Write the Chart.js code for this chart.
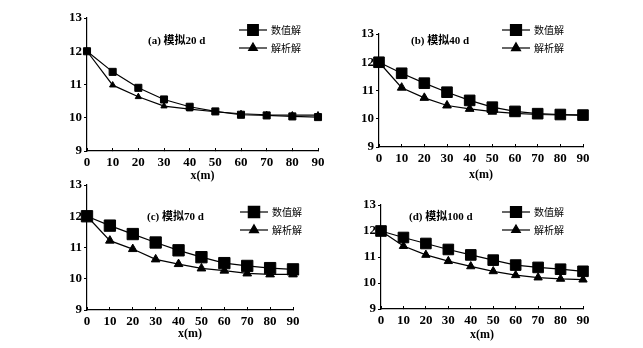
<!DOCTYPE html>
<html>
<head>
<meta charset="utf-8">
<script src="https://cdn.jsdelivr.net/npm/chart.js@4/dist/chart.umd.min.js"></script>
<style>
  html, body { margin: 0; padding: 0; background: #fff; }
  body { width: 643px; height: 348px; position: relative; overflow: hidden; }
  canvas { position: absolute; }
</style>
</head>
<body>
<canvas id="chartA"></canvas>
<canvas id="chartB"></canvas>
<canvas id="chartC"></canvas>
<canvas id="chartD"></canvas>
<script>
const X_VALUES = [0, 10, 20, 30, 40, 50, 60, 70, 80, 90];
const SERIES_LABELS = ["数值解", "解析解"];
const PANEL_TITLES = ["(a) 模拟20 d", "(b) 模拟40 d", "(c) 模拟70 d", "(d) 模拟100 d"];
const X_TITLE = "x(m)";

const numericA = [12, 11.38, 10.9, 10.55, 10.33, 10.19, 10.09, 10.07, 10.04, 10.02];
const analyticA = [12, 10.98, 10.63, 10.35, 10.26, 10.18, 10.12, 10.09, 10.08, 10.08];
const numericB = [12, 11.61, 11.26, 10.94, 10.65, 10.41, 10.26, 10.18, 10.15, 10.13];
const analyticB = [12, 11.1, 10.74, 10.47, 10.35, 10.25, 10.19, 10.15, 10.14, 10.13];
const numericC = [12, 11.7, 11.43, 11.16, 10.91, 10.69, 10.5, 10.41, 10.34, 10.3];
const analyticC = [12, 11.22, 10.95, 10.62, 10.47, 10.33, 10.26, 10.17, 10.14, 10.14];
const numericD = [12, 11.75, 11.52, 11.29, 11.08, 10.88, 10.69, 10.6, 10.53, 10.45];
const analyticD = [12, 11.42, 11.08, 10.84, 10.64, 10.45, 10.3, 10.21, 10.16, 10.13];

const Y_MIN = 9;
const Y_MAX = 13;

const SERIF = "'Liberation Serif', 'Times New Roman', serif";
const CJK = "'Noto Sans CJK SC', sans-serif";
const Y_AXIS_WIDTH = 30;
const PAD_TOP = 12;
const PAD_RIGHT = 14;

// chart area box on the page, plus where the label and legend sit inside it
const PANELS = [
  { id: "chartA", numeric: numericA, analytic: analyticA, area: [87, 18, 318, 151], titleGap: 24,
    sq: 5, tri: 3.6, titleAt: [61, 23], legendAt: [152, 12], legendSq: 7.5, legendTri: 5 },
  { id: "chartB", numeric: numericB, analytic: analyticB, area: [379, 34, 583, 147], titleGap: 27,
    sq: 7.5, tri: 5, titleAt: [32, 7], legendAt: [123, -4], legendSq: 7.8, legendTri: 5.2 },
  { id: "chartC", numeric: numericC, analytic: analyticC, area: [87, 185, 293, 310], titleGap: 23,
    sq: 8, tri: 5, titleAt: [60, 32], legendAt: [153, 27], legendSq: 8, legendTri: 5.2 },
  { id: "chartD", numeric: numericD, analytic: analyticD, area: [381, 205, 583, 309], titleGap: 25,
    sq: 7.5, tri: 4.8, titleAt: [28, 12], legendAt: [121, 7], legendSq: 7.8, legendTri: 5 },
];

const panelDecor = {
  id: "panelDecor",
  afterDraw(chart, args, opts) {
    const { ctx, chartArea } = chart;
    ctx.save();
    ctx.fillStyle = "#000";
    ctx.strokeStyle = "#000";
    ctx.textBaseline = "middle";
    ctx.font = `bold 11px ${SERIF}, ${CJK}`;
    ctx.fillText(opts.title, chartArea.left + opts.titleAt[0], chartArea.top + opts.titleAt[1]);

    const lineLen = 28;
    chart.data.datasets.forEach((ds, i) => {
      const x0 = chartArea.left + opts.legendAt[0];
      const y = chartArea.top + opts.legendAt[1] + i * 18;
      ctx.lineWidth = 1.2;
      ctx.beginPath();
      ctx.moveTo(x0, y);
      ctx.lineTo(x0 + lineLen, y);
      ctx.stroke();
      const radius = i === 0 ? opts.legendSq : opts.legendTri;
      Chart.helpers.drawPoint(ctx, { pointStyle: ds.pointStyle, radius, borderWidth: 1 }, x0 + lineLen / 2, y);
      ctx.font = `10px ${CJK}`;
      ctx.fillText(ds.label, x0 + lineLen + 4, y);
    });
    ctx.restore();
  },
};

const buildChart = (panel, index) => {
  const [left, top, right, bottom] = panel.area;
  const xHeight = panel.titleGap + 8;
  const canvas = document.getElementById(panel.id);
  canvas.width = Y_AXIS_WIDTH + (right - left) + PAD_RIGHT;
  canvas.height = PAD_TOP + (bottom - top) + xHeight;
  canvas.style.left = `${left - Y_AXIS_WIDTH}px`;
  canvas.style.top = `${top - PAD_TOP}px`;

  const toPoints = (values) => values.map((y, i) => ({ x: X_VALUES[i], y }));

  const commonSet = {
    borderColor: "#000",
    backgroundColor: "#000",
    pointBackgroundColor: "#000",
    pointBorderColor: "#000",
    borderWidth: 1.2,
    pointBorderWidth: 1,
    tension: 0,
    clip: false,
  };

  new Chart(canvas, {
    type: "line",
    data: {
      datasets: [
        { ...commonSet, label: SERIES_LABELS[0], data: toPoints(panel.numeric), pointStyle: "rect", pointRadius: panel.sq },
        { ...commonSet, label: SERIES_LABELS[1], data: toPoints(panel.analytic), pointStyle: "triangle", pointRadius: panel.tri },
      ],
    },
    options: {
      responsive: false,
      animation: false,
      layout: { padding: { top: PAD_TOP, right: PAD_RIGHT, left: 0, bottom: 0 } },
      plugins: {
        legend: { display: false },
        tooltip: { enabled: false },
        panelDecor: {
          title: PANEL_TITLES[index],
          titleAt: panel.titleAt,
          legendAt: panel.legendAt,
          legendSq: panel.legendSq,
          legendTri: panel.legendTri,
        },
      },
      scales: {
        x: {
          type: "linear",
          min: 0,
          max: 90,
          afterFit: (scale) => { scale.height = xHeight; },
          ticks: { stepSize: 10, padding: 7, color: "#000", font: { family: SERIF, size: 13, weight: "bold" }, maxRotation: 0 },
          grid: { drawOnChartArea: false, drawTicks: true, tickLength: -3, color: "#000" },
          border: { display: true, color: "#000", width: 1.2 },
          title: { display: true, text: X_TITLE, color: "#000", padding: 0, font: { family: SERIF, size: 12, weight: "bold" } },
        },
        y: {
          min: Y_MIN,
          max: Y_MAX,
          afterFit: (scale) => { scale.width = Y_AXIS_WIDTH; },
          ticks: { stepSize: 1, padding: 2, color: "#000", font: { family: SERIF, size: 13, weight: "bold" } },
          grid: { drawOnChartArea: false, drawTicks: true, tickLength: 3, color: "#000" },
          border: { display: true, color: "#000", width: 1.2 },
        },
      },
    },
    plugins: [panelDecor],
  });
};

PANELS.forEach(buildChart);
</script>
</body>
</html>
